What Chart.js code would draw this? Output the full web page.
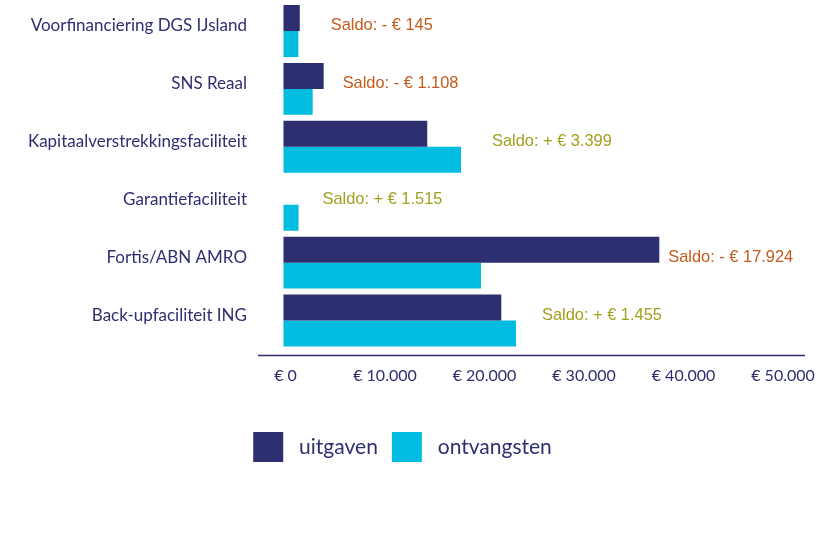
<!DOCTYPE html>
<html>
<head>
<meta charset="utf-8">
<script src="https://cdn.jsdelivr.net/npm/chart.js@4/dist/chart.umd.min.js"></script>
<style>
html, body { margin: 0; padding: 0; background: #fff; }
</style>
</head>
<body>
<canvas id="grafiek" width="830" height="553"></canvas>
<script>
const categorieen = [
    "Voorfinanciering DGS IJsland",
    "SNS Reaal",
    "Kapitaalverstrekkingsfaciliteit",
    "Garantiefaciliteit",
    "Fortis/ABN AMRO",
    "Back-upfaciliteit ING"
];
const uitgaven = [1640, 4040, 14450, 0, 37770, 21890];
const ontvangsten = [1495, 2935, 17840, 1515, 19850, 23370];
const saldo = [-145, -1108, 3399, 1515, -17924, 1455];
const xTicks = [0, 10000, 20000, 30000, 40000, 50000];

const NAVY = "#2e2f70";
const CYAN = "#00bce0";

function euro(v) {
    return String(Math.abs(v)).replace(/\B(?=(\d{3})+(?!\d))/g, ".");
}

// saldo-teksten naast de balken
const saldoLabels = {
    id: "saldoLabels",
    afterDatasetsDraw(chart, args, opts) {
        const ctx = chart.ctx;
        const xs = chart.scales.x;
        const ys = chart.scales.y;
        ctx.save();
        ctx.font = "16.4px 'Liberation Sans', Arial, sans-serif";
        ctx.textAlign = "left";
        ctx.textBaseline = "middle";
        saldo.forEach(function(s, i) {
            const eind = Math.max(uitgaven[i], ontvangsten[i]);
            const x = xs.getPixelForValue(eind) + opts.offsets[i];
            const y = ys.getPixelForValue(i) - 5;
            ctx.fillStyle = s < 0 ? "#c55a1a" : "#a0a01e";
            ctx.fillText("Saldo: " + (s < 0 ? "- " : "+ ") + "€ " + euro(s), x, y);
        });
        ctx.restore();
    }
};

// horizontale as-lijn onder de balken
const asLijn = {
    id: "asLijn",
    afterDraw(chart) {
        const a = chart.chartArea;
        const ctx = chart.ctx;
        ctx.save();
        ctx.strokeStyle = NAVY;
        ctx.lineWidth = 1.5;
        ctx.beginPath();
        ctx.moveTo(a.left, a.bottom + 6);
        ctx.lineTo(a.right, a.bottom + 6);
        ctx.stroke();
        ctx.restore();
    }
};

const ctx = document.getElementById("grafiek").getContext("2d");
new Chart(ctx, {
    type: "bar",
    data: {
        labels: categorieen,
        datasets: [
            {
                label: "uitgaven",
                data: uitgaven,
                backgroundColor: NAVY,
                barPercentage: 1,
                categoryPercentage: 0.897
            },
            {
                label: "ontvangsten",
                data: ontvangsten,
                backgroundColor: CYAN,
                barPercentage: 1,
                categoryPercentage: 0.897
            }
        ]
    },
    options: {
        indexAxis: "y",
        responsive: false,
        animation: false,
        devicePixelRatio: 1,
        layout: { padding: { top: 2, right: 25, left: 0, bottom: 81 } },
        scales: {
            x: {
                min: -2560,
                max: 52410,
                afterBuildTicks: function(scale) {
                    scale.ticks = xTicks.map(v => ({ value: v }));
                },
                afterFit: function(scale) {
                    scale.height = 68.5;
                },
                grid: { display: false },
                border: { display: false },
                ticks: {
                    padding: 9,
                    labelOffset: 2,
                    color: NAVY,
                    font: { family: "Lato", size: 16 },
                    maxRotation: 0,
                    callback: function(v) { return "€ " + euro(v); }
                }
            },
            y: {
                afterFit: function(scale) {
                    scale.width = 258;
                    scale.paddingTop = 0;
                    scale.paddingBottom = 0;
                },
                grid: { display: false, drawTicks: false },
                border: { display: false },
                ticks: {
                    padding: 11,
                    labelOffset: -5,
                    color: NAVY,
                    font: { family: "Lato", size: 17 }
                }
            }
        },
        plugins: {
            legend: {
                position: "bottom",
                labels: {
                    boxWidth: 30,
                    boxHeight: 30,
                    padding: 14,
                    color: NAVY,
                    font: { family: "Lato", size: 21 },
                    generateLabels: function(chart) {
                        const items = Chart.defaults.plugins.legend.labels.generateLabels(chart);
                        items.forEach(it => { it.text = " " + it.text; it.lineWidth = 0; });
                        return items;
                    }
                }
            },
            tooltip: { enabled: false },
            saldoLabels: { offsets: [31, 19, 31, 24, 9, 26] }
        }
    },
    plugins: [saldoLabels, asLijn]
});
</script>
</body>
</html>
